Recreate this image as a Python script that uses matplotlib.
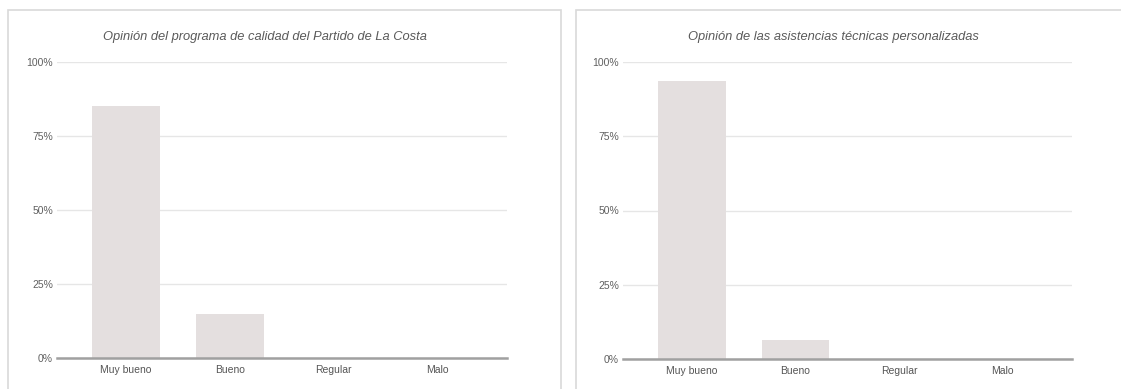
import matplotlib.pyplot as plt
from matplotlib.patches import Rectangle
from matplotlib.ticker import PercentFormatter

categorias = ["Muy bueno", "Bueno", "Regular", "Malo"]
valores_programa = [85, 15, 0, 0]
valores_asistencias = [93.75, 6.25, 0, 0]
titulos = [
    "Opinión del programa de calidad del Partido de La Costa",
    "Opinión de las asistencias técnicas personalizadas",
]

plt.rcParams["font.family"] = ["Liberation Sans", "DejaVu Sans"]

W, H = 1121, 389
fig = plt.figure(figsize=(W / 100, H / 100), dpi=100)
fig.patch.set_facecolor("white")

# marcos de cada panel (en pixeles)
for x0, x1 in [(8, 561), (576, 1130)]:
    fig.patches.append(Rectangle((x0 / W, -0.05), (x1 - x0) / W, 1.05 - 10 / H,
                                 transform=fig.transFigure, fill=False,
                                 edgecolor="#d9d9d9", linewidth=1.2))

# ejes: (izq, der, arriba 100%, abajo 0%) en pixeles
posiciones = [(57, 507, 62, 358), (623, 1072, 62, 359)]
titulo_x = [265, 833]

for (l, r, t, b), valores, titulo, tx in zip(posiciones, [valores_programa, valores_asistencias], titulos, titulo_x):
    ax = fig.add_axes([l / W, (H - b) / H, (r - l) / W, (b - t) / H])
    xs = range(len(categorias))
    ax.bar(xs, valores, width=0.65, color="#e4dfdf", zorder=2)
    ax.set_xlim(-0.665, len(categorias) - 1 + 0.67)
    ax.set_ylim(0, 100)
    ax.set_yticks([0, 25, 50, 75, 100])
    ax.yaxis.set_major_formatter(PercentFormatter(decimals=0))
    ax.set_xticks(list(xs))
    ax.set_xticklabels(categorias)
    ax.grid(axis="y", color="#e6e6e6", linewidth=1.0, zorder=0)
    for s in ["top", "right", "left"]:
        ax.spines[s].set_visible(False)
    ax.spines["bottom"].set_color("#a0a0a0")
    ax.spines["bottom"].set_linewidth(1.8)
    ax.spines["bottom"].set_zorder(3)
    ax.tick_params(axis="y", length=0, pad=3, labelsize=7.5, labelcolor="#606060")
    ax.tick_params(axis="x", length=0, pad=5, labelsize=7.5, labelcolor="#555555")
    ax.set_axisbelow(True)
    fig.text(tx / W, 1 - 37 / H, titulo, ha="center", va="center",
             fontsize=9.3, style="italic", color="#5a5a5a")

fig.savefig("out.png", dpi=100)
